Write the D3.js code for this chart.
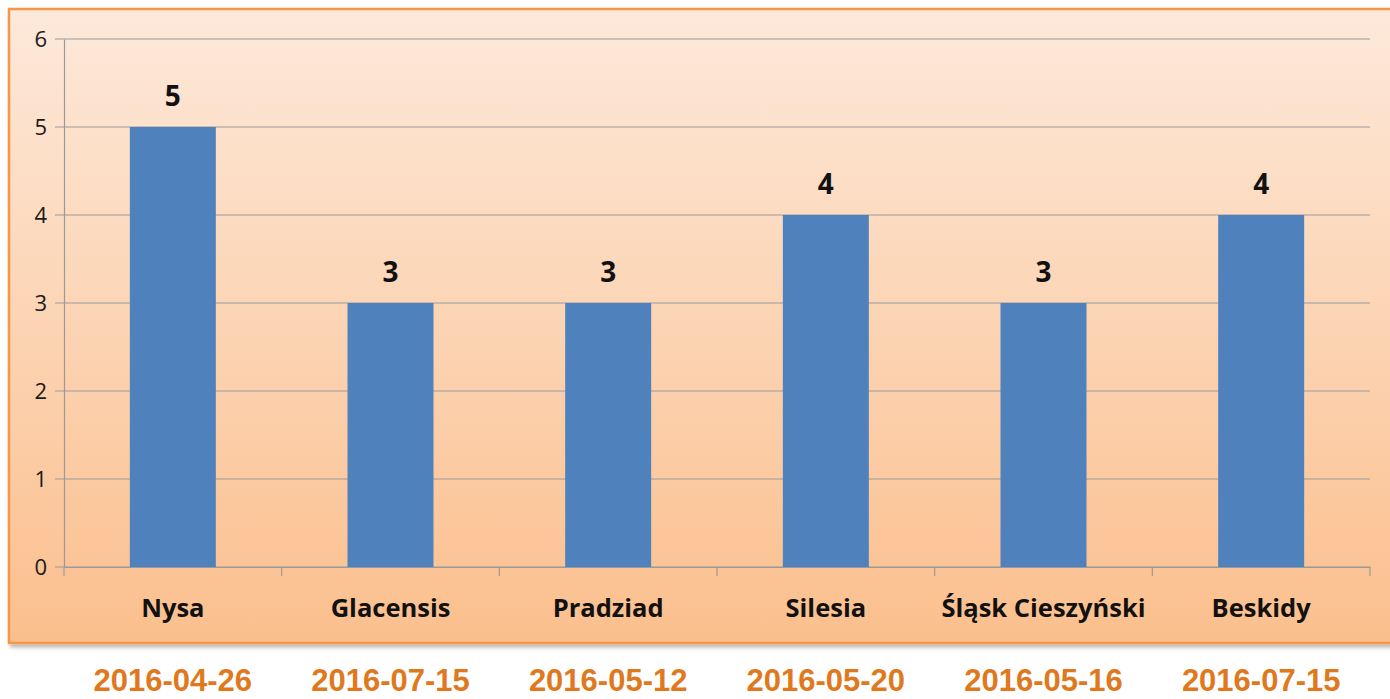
<!DOCTYPE html>
<html lang="pl">
<head>
<meta charset="UTF-8">
<title>Wykres</title>
<script src="https://cdnjs.cloudflare.com/ajax/libs/d3/7.8.5/d3.min.js"></script>
<style>
  html, body { margin: 0; padding: 0; background: #fff; }
  svg { display: block; }
  .axis text { font-family: "Open Sans", sans-serif; }
</style>
</head>
<body>
<div id="chart"></div>
<script>
// dane
const categories = ["Nysa", "Glacensis", "Pradziad", "Silesia", "Śląsk Cieszyński", "Beskidy"];
const values = [5, 3, 3, 4, 3, 4];
const dates = ["2016-04-26", "2016-07-15", "2016-05-12", "2016-05-20", "2016-05-16", "2016-07-15"];
const yTicks = [0, 1, 2, 3, 4, 5, 6];

const width = 1390, height = 699;
const margin = { left: 64, right: 20, top: 39, bottom: 132 };

const svg = d3.select("#chart").append("svg")
    .attr("width", width)
    .attr("height", height);

const defs = svg.append("defs");
const grad = defs.append("linearGradient")
    .attr("id", "bg").attr("x1", 0).attr("y1", 0).attr("x2", 0).attr("y2", 1);
grad.append("stop").attr("offset", "0%").attr("stop-color", "#fde9da");
grad.append("stop").attr("offset", "100%").attr("stop-color", "#fbbf8d");

const shadow = defs.append("filter").attr("id", "shadow")
    .attr("x", "-5%").attr("y", "-5%").attr("width", "110%").attr("height", "115%");
shadow.append("feDropShadow").attr("dx", 2).attr("dy", 3).attr("stdDeviation", 2)
    .attr("flood-color", "#000").attr("flood-opacity", 0.3);

// tło wykresu
svg.append("rect")
    .attr("x", 9).attr("y", 9)
    .attr("width", 1395).attr("height", 634)
    .attr("fill", "url(#bg)")
    .attr("stroke", "#f79646")
    .attr("stroke-width", 2.5)
    .attr("filter", "url(#shadow)");

const x = d3.scaleBand()
    .domain(categories)
    .range([margin.left, 1370])
    .paddingInner(0.605)
    .paddingOuter(0.3025);

const xOuter = d3.scaleBand()
    .domain(categories)
    .range([margin.left, 1370]);

const y = d3.scaleLinear()
    .domain([0, 6])
    .range([567, 39]);

// siatka
svg.append("g")
    .selectAll("line")
    .data(yTicks)
    .join("line")
    .attr("x1", 55).attr("x2", 1370)
    .attr("y1", d => y(d)).attr("y2", d => y(d))
    .attr("stroke", "#9a9a9a")
    .attr("stroke-width", 1.2);

// oś Y
const yAxis = svg.append("g")
    .attr("class", "axis")
    .attr("transform", `translate(${margin.left},0)`)
    .call(d3.axisLeft(y).tickValues(yTicks).tickFormat(d3.format("d")).tickSize(0).tickPadding(17));
yAxis.select(".domain").attr("stroke", "#9a9a9a").attr("stroke-width", 1.2);
yAxis.selectAll("text").attr("font-size", 22).attr("fill", "#1a1a1a");

// słupki
svg.append("g")
    .selectAll("rect")
    .data(values)
    .join("rect")
    .attr("x", (d, i) => x(categories[i]))
    .attr("width", x.bandwidth())
    .attr("y", d => y(d))
    .attr("height", d => y(0) - y(d))
    .attr("fill", "#4f81bd");

// oś X
const xAxis = svg.append("g")
    .attr("transform", `translate(0,${y(0)})`)
    .call(d3.axisBottom(xOuter).tickSize(0).tickFormat(""));
xAxis.select(".domain").attr("stroke", "#9a9a9a").attr("stroke-width", 1.2);

svg.append("g")
    .selectAll("line")
    .data(categories.concat([null]))
    .join("line")
    .attr("x1", (d, i) => xOuter.range()[0] + i * xOuter.step())
    .attr("x2", (d, i) => xOuter.range()[0] + i * xOuter.step())
    .attr("y1", y(0)).attr("y2", y(0) + 9)
    .attr("stroke", "#9a9a9a")
    .attr("stroke-width", 1.2);

// etykiety kategorii
svg.append("g")
    .selectAll("text")
    .data(categories)
    .join("text")
    .attr("x", d => xOuter(d) + xOuter.bandwidth() / 2)
    .attr("y", 617)
    .attr("text-anchor", "middle")
    .attr("font-family", "'Open Sans', sans-serif")
    .attr("font-weight", "bold")
    .attr("font-size", 25.5)
    .attr("fill", "#111")
    .text(d => d);

// etykiety wartości
svg.append("g")
    .selectAll("text")
    .data(values)
    .join("text")
    .attr("x", (d, i) => x(categories[i]) + x.bandwidth() / 2)
    .attr("y", d => y(d) - 21)
    .attr("text-anchor", "middle")
    .attr("font-family", "'Open Sans', sans-serif")
    .attr("font-weight", "bold")
    .attr("font-size", 28)
    .attr("fill", "#111")
    .text(d => d);

// daty
svg.append("g")
    .selectAll("text")
    .data(dates)
    .join("text")
    .attr("x", (d, i) => xOuter(categories[i]) + xOuter.bandwidth() / 2)
    .attr("y", 691)
    .attr("text-anchor", "middle")
    .attr("font-family", "'Liberation Sans', Arial, sans-serif")
    .attr("font-weight", "bold")
    .attr("font-size", 31)
    .attr("fill", "#e0791e")
    .text(d => d);
</script>
</body>
</html>
